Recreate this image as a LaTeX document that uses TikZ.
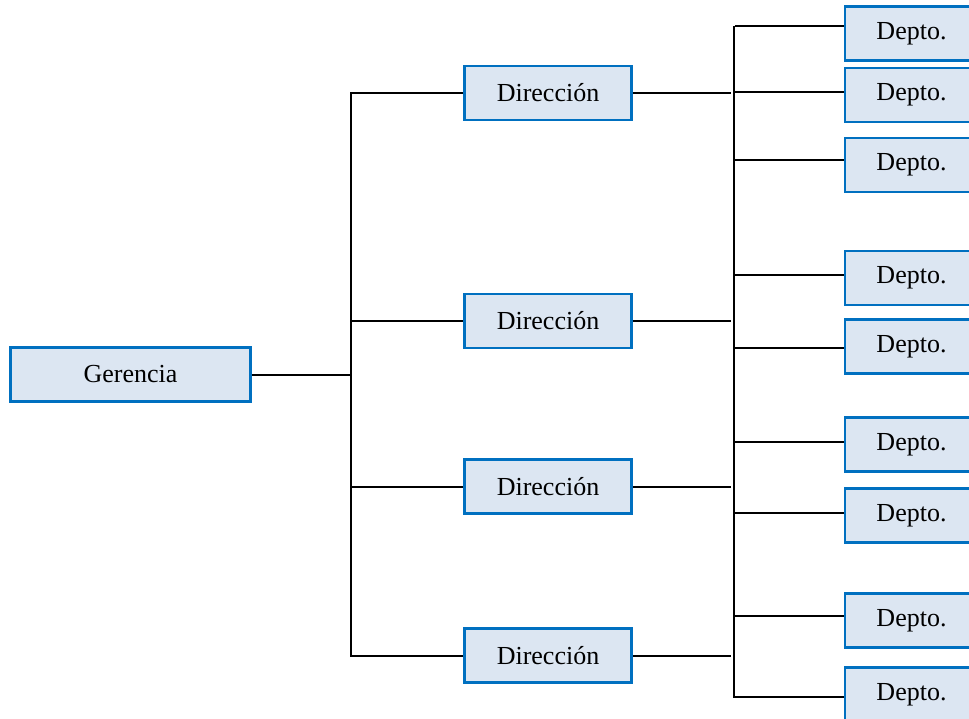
\documentclass[tikz,border=0pt]{standalone}
\usepackage{fontspec}
\setmainfont{Liberation Serif}
\definecolor{boxline}{RGB}{0,112,192}
\definecolor{boxfill}{RGB}{220,230,242}
\tikzset{
  unit/.style={draw=boxline, fill=boxfill, line width=2.5pt, inner sep=0pt,
    minimum height=54pt, font=\fontsize{26}{30}\selectfont},
  gerbox/.style={unit, minimum width=240pt},
  dirbox/.style={unit, minimum width=167pt},
  depbox/.style={unit, minimum width=133pt},
  link/.style={line width=2pt, black}
}
\begin{document}
\begin{tikzpicture}[x=1pt, y=-1pt]
  \clip (0,0) rectangle (969,719);
  \fill[white] (0,0) rectangle (969,719);

  % top level
  \node[gerbox] (ger) at (130.5,374.5) {Gerencia};

  % directorates
  \node[dirbox] (dir1) at (548,93)    {Dirección};
  \node[dirbox] (dir2) at (548,321)   {Dirección};
  \node[dirbox] (dir3) at (548,486.5) {Dirección};
  \node[dirbox] (dir4) at (548,655.5) {Dirección};

  % departments
  \node[depbox] (dep1) at (911.5,33.5)  {Depto.};
  \node[depbox] (dep2) at (911.5,95)    {Depto.};
  \node[depbox] (dep3) at (911.5,165)   {Depto.};
  \node[depbox] (dep4) at (911.5,278)   {Depto.};
  \node[depbox] (dep5) at (911.5,346.5) {Depto.};
  \node[depbox] (dep6) at (911.5,444.5) {Depto.};
  \node[depbox] (dep7) at (911.5,515.5) {Depto.};
  \node[depbox] (dep8) at (911.5,620.5) {Depto.};
  \node[depbox] (dep9) at (911.5,694.5) {Depto.};

  % trunk lines
  \coordinate (vl) at (351,0);
  \coordinate (vr) at (734,0);
  \coordinate (ve) at (731,0);
  \coordinate (vs) at (735,0);

  % left bracket: Gerencia to directorates
  \draw[link] (ger.east) -- (vl |- ger.east);
  \draw[link] (dir1.west) -- (vl |- dir1.west) -- (vl |- dir4.west) -- (dir4.west);
  \draw[link] (vl |- dir2.west) -- (dir2.west);
  \draw[link] (vl |- dir3.west) -- (dir3.west);

  % directorates to right trunk
  \draw[link] (dir1.east) -- (ve |- dir1.east);
  \draw[link] (dir2.east) -- (ve |- dir2.east);
  \draw[link] (dir3.east) -- (ve |- dir3.east);
  \draw[link] (dir4.east) -- (ve |- dir4.east);

  % right trunk
  \coordinate (rtop) at (734,26);
  \coordinate (rbot) at (734,698);
  \draw[link, line width=2.2pt] (rtop) -- (rbot);

  % branches to departments
  \foreach \d/\y in {dep1/26, dep2/92, dep3/160, dep4/275, dep5/348,
                     dep6/442, dep7/513, dep8/616, dep9/697} {
    \coordinate (b) at (735,\y);
    \draw[link] (b) -- (b -| \d.west);
  }
\end{tikzpicture}
\end{document}
